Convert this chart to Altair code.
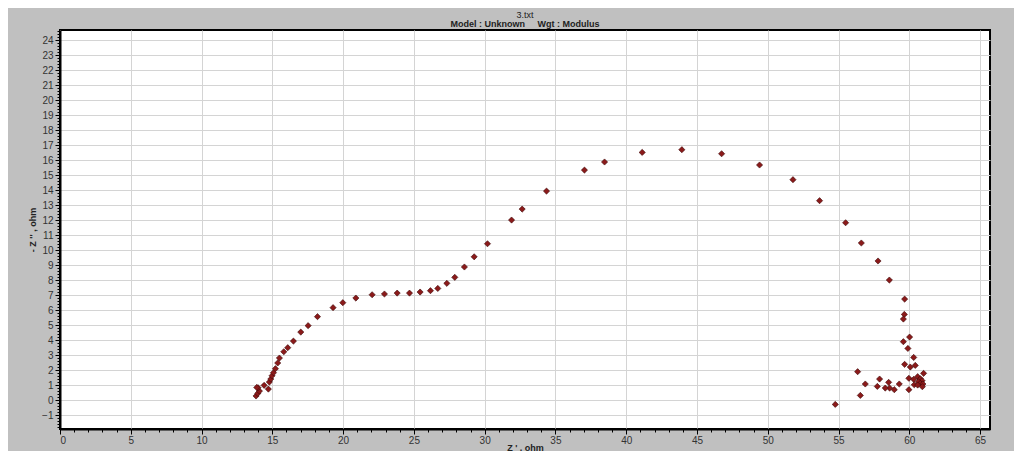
import altair as alt
import pandas as pd

# Z' (ohm) and -Z'' (ohm)
z_real = [
    13.85, 13.97, 14.09, 13.99, 13.90, 14.42, 14.72, 14.79, 14.89, 14.98,
    15.08, 15.22, 15.38, 15.50, 15.81, 16.09, 16.49, 17.01, 17.53, 18.19,
    19.29, 19.98, 20.90, 22.05, 22.92, 23.82, 24.69, 25.44, 26.17, 26.69,
    27.33, 27.89, 28.57, 29.26, 30.20, 31.90, 32.65, 34.37, 37.05, 38.47,
    41.13, 43.93, 46.74, 49.42, 51.78, 53.66, 55.50, 56.61, 57.79, 58.59,
    59.67, 59.65, 59.58, 60.02, 59.58, 59.90, 60.31, 59.67, 60.42, 60.07,
    61.01, 59.97, 60.31, 60.59, 60.78, 60.90, 60.64, 60.78, 60.96, 60.35,
    60.59, 60.92, 59.97, 59.29, 58.94, 58.61, 58.54, 58.30, 57.90, 57.74,
    56.89, 56.35, 56.54, 54.77,
]
z_imag = [
    0.27, 0.44, 0.60, 0.82, 0.84, 0.98, 0.73, 1.20, 1.40, 1.62,
    1.82, 2.09, 2.47, 2.80, 3.22, 3.49, 3.93, 4.53, 4.96, 5.56,
    6.16, 6.49, 6.80, 7.02, 7.07, 7.13, 7.13, 7.20, 7.29, 7.44,
    7.78, 8.18, 8.87, 9.55, 10.42, 12.00, 12.73, 13.93, 15.33, 15.87,
    16.51, 16.69, 16.42, 15.67, 14.69, 13.29, 11.82, 10.47, 9.27, 8.00,
    6.73, 5.71, 5.40, 4.20, 3.89, 3.44, 2.84, 2.38, 2.31, 2.20,
    1.78, 1.45, 1.38, 1.56, 1.42, 1.29, 1.22, 1.11, 1.07, 1.02,
    1.00, 0.89, 0.69, 1.07, 0.69, 0.80, 1.18, 0.80, 1.40, 0.91,
    1.07, 1.89, 0.31, -0.29,
]

x_major = list(range(0, 70, 5))
x_minor = list(range(0, 66, 1))
y_major = list(range(-1, 25, 1))
y_minor = [round(-1.8 + 0.2 * i, 1) for i in range(133)]

title_text = "3.txt"
subtitle_text = "Model : Unknown\u00a0\u00a0\u00a0\u00a0\u00a0Wgt : Modulus"

df = pd.DataFrame({"zr": z_real, "zi": z_imag})

xdom = [0, 65.7]
ydom = [-1.93, 24.67]
FONT = "Liberation Sans"

points = alt.Chart(df).mark_point(
    shape="diamond", filled=True, size=38, color="#8b1a1a",
    stroke="#3a0808", strokeWidth=0.6, opacity=1
).encode(
    x=alt.X("zr:Q", scale=alt.Scale(domain=xdom, nice=False, zero=False),
            axis=alt.Axis(values=x_major, title="Z ' , ohm", orient="bottom",
                          grid=True, gridColor="#d4d4d4", gridWidth=1,
                          tickSize=5, tickColor="#000000", tickWidth=1,
                          labelFontSize=10, labelColor="#333333", labelFont=FONT,
                          labelPadding=1, domainColor="#000000", domainWidth=2,
                          titleFont=FONT, titleFontSize=9, titleFontWeight="bold",
                          titleColor="#222222", titleY=21, titleBaseline="alphabetic")),
    y=alt.Y("zi:Q", scale=alt.Scale(domain=ydom, nice=False, zero=False),
            axis=alt.Axis(values=y_major, title="- Z '' , ohm", orient="left",
                          grid=True, gridColor="#d4d4d4", gridWidth=1,
                          tickSize=5, tickColor="#000000", tickWidth=1,
                          labelFontSize=10, labelColor="#333333", labelFont=FONT,
                          labelPadding=2, domainColor="#000000", domainWidth=2,
                          titleFont=FONT, titleFontSize=9, titleFontWeight="bold",
                          titleColor="#222222", titlePadding=4)),
)

minor = alt.Chart(df).mark_point(opacity=0).encode(
    x=alt.X("zr:Q", scale=alt.Scale(domain=xdom, nice=False, zero=False),
            axis=alt.Axis(values=x_minor, orient="bottom", labels=False, title=None,
                          grid=False, domain=False, tickSize=3, tickColor="#000000")),
    y=alt.Y("zi:Q", scale=alt.Scale(domain=ydom, nice=False, zero=False),
            axis=alt.Axis(values=y_minor, orient="left", labels=False, title=None,
                          grid=False, domain=False, tickSize=3, tickColor="#000000")),
)

chart = alt.layer(minor, points).resolve_axis(x="independent", y="independent").properties(
    width=930, height=399,
    autosize=alt.AutoSizeParams(type="none"),
    padding={"left": 52, "top": 22, "right": 24, "bottom": 22},
    background="#c0c0c0",
    title=alt.TitleParams(
        text=title_text, subtitle=subtitle_text,
        font=FONT, fontSize=9, fontWeight="normal", color="#222222",
        subtitleFont=FONT, subtitleFontSize=9, subtitleFontWeight="bold",
        subtitleColor="#222222", subtitlePadding=0, offset=1, anchor="middle",
    ),
).configure_view(stroke="#000000", strokeWidth=2, fill="#ffffff")

chart.save("out.html", embed_options={"renderer": "svg", "actions": False})
